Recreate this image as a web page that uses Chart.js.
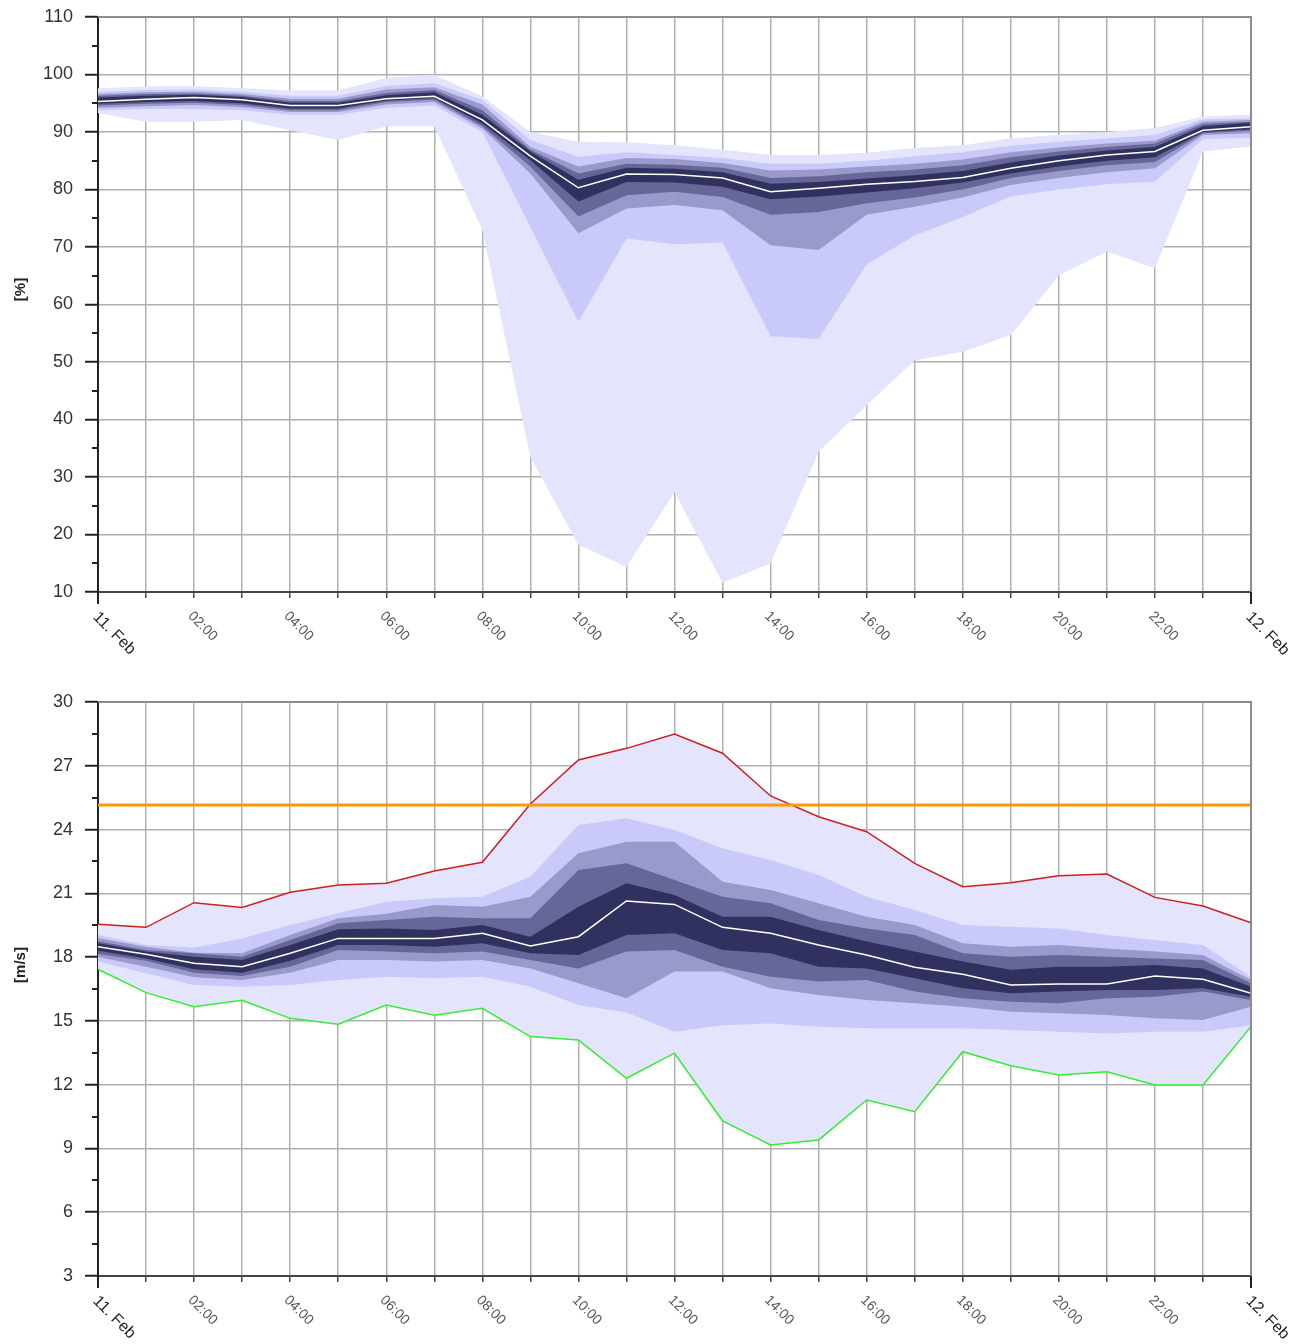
<!DOCTYPE html>
<html>
<head>
<meta charset="utf-8">
<script src="https://cdn.jsdelivr.net/npm/chart.js@4.4.1/dist/chart.umd.min.js"></script>
<style>
  html, body { margin: 0; padding: 0; background: #fff; }
  canvas { display: block; }
</style>
</head>
<body>
<canvas id="rhChart" width="1304" height="680"></canvas>
<canvas id="windChart" width="1304" height="664"></canvas>
<script>
// hourly steps, 11 Feb 00:00 -> 12 Feb 00:00
const categories = ["00:00","01:00","02:00","03:00","04:00","05:00","06:00","07:00","08:00","09:00","10:00","11:00","12:00",
  "13:00","14:00","15:00","16:00","17:00","18:00","19:00","20:00","21:00","22:00","23:00","24:00"];
const tickLabels = ["11. Feb","","02:00","","04:00","","06:00","","08:00","","10:00","","12:00",
  "","14:00","","16:00","","18:00","","20:00","","22:00","","12. Feb"];

// relative humidity [%] — percentile bands, outer -> inner
const rhMedian  = [95.3, 95.7, 96.0, 95.6, 94.6, 94.6, 95.8, 96.2, 92.1, 85.8, 80.3, 82.7, 82.6, 82.0, 79.6, 80.2, 80.9, 81.4, 82.1, 83.7, 85.0, 86.0, 86.6, 90.3, 90.9];
const rhOuterHi = [97.6, 97.9, 98.0, 97.6, 97.2, 97.2, 99.4, 99.9, 96.2, 90.0, 88.3, 88.2, 87.7, 86.9, 86.0, 86.0, 86.4, 87.2, 87.7, 88.9, 89.5, 90.0, 90.7, 92.7, 93.0];
const rhOuterLo = [93.3, 91.8, 91.8, 92.1, 90.3, 88.6, 91.0, 91.0, 73.0, 33.5, 18.2, 14.4, 27.4, 11.6, 15.0, 34.4, 42.5, 50.3, 51.8, 54.7, 65.1, 69.2, 66.3, 86.6, 87.5];
const rhP2Hi    = [97.0, 97.3, 97.4, 97.0, 96.3, 96.3, 98.0, 98.5, 95.6, 88.6, 85.7, 86.5, 86.0, 85.5, 84.5, 84.5, 85.0, 85.8, 86.5, 87.6, 88.3, 88.9, 89.5, 92.2, 92.4];
const rhP2Lo    = [93.8, 94.0, 94.0, 93.8, 93.0, 93.0, 94.2, 94.6, 90.0, 73.5, 57.0, 71.5, 70.5, 70.8, 54.5, 54.0, 67.0, 72.0, 75.2, 78.8, 80.0, 80.9, 81.4, 88.8, 89.0];
const rhP3Hi    = [96.6, 96.9, 97.0, 96.6, 95.8, 95.8, 97.4, 97.8, 94.8, 87.4, 84.0, 85.5, 85.3, 84.6, 83.3, 83.5, 84.0, 84.5, 85.2, 86.5, 87.3, 88.0, 88.5, 91.8, 92.1];
const rhP3Lo    = [94.2, 94.5, 94.7, 94.3, 93.5, 93.5, 94.8, 95.2, 90.6, 82.8, 72.4, 76.7, 77.3, 76.4, 70.3, 69.5, 75.6, 77.0, 78.6, 80.8, 82.0, 83.0, 83.7, 89.5, 89.8];
const rhP4Hi    = [96.3, 96.6, 96.7, 96.3, 95.4, 95.4, 96.8, 97.3, 93.8, 86.9, 82.8, 84.5, 84.3, 83.8, 82.0, 82.3, 83.0, 83.5, 84.2, 85.6, 86.6, 87.4, 88.0, 91.4, 91.8];
const rhP4Lo    = [94.6, 94.9, 95.1, 94.7, 93.8, 93.8, 95.2, 95.6, 91.0, 84.0, 75.3, 79.0, 79.6, 78.7, 75.6, 76.1, 77.6, 78.6, 80.0, 82.0, 83.2, 84.2, 84.8, 89.8, 90.2];
const rhP5Hi    = [96.0, 96.3, 96.5, 96.1, 95.1, 95.1, 96.4, 96.9, 93.0, 86.6, 81.7, 83.8, 83.6, 83.0, 81.0, 81.3, 81.9, 82.5, 83.2, 84.7, 85.9, 86.8, 87.4, 91.0, 91.6];
const rhP5Lo    = [94.9, 95.2, 95.4, 95.0, 94.1, 94.1, 95.5, 95.9, 91.5, 85.1, 77.9, 81.3, 81.2, 80.5, 78.3, 78.8, 79.5, 80.2, 81.2, 82.8, 84.0, 85.0, 85.6, 90.0, 90.5];

// wind speed [m/s]
const windMax    = [19.54, 19.4, 20.56, 20.33, 21.05, 21.39, 21.47, 22.05, 22.46, 25.2, 27.27, 27.82, 28.49, 27.59, 25.58, 24.6, 23.9, 22.41, 21.31, 21.5, 21.83, 21.91, 20.81, 20.4, 19.62];
const windMin    = [17.43, 16.33, 15.67, 15.97, 15.12, 14.84, 15.75, 15.27, 15.59, 14.26, 14.1, 12.3, 13.48, 10.3, 9.16, 9.4, 11.28, 10.73, 13.55, 12.89, 12.45, 12.61, 11.98, 11.98, 14.73];
const windMedian = [18.49, 18.13, 17.71, 17.55, 18.18, 18.88, 18.88, 18.88, 19.12, 18.52, 18.96, 20.64, 20.48, 19.4, 19.12, 18.57, 18.1, 17.52, 17.19, 16.69, 16.74, 16.74, 17.11, 16.96, 16.3];
const windP2Hi   = [19.04, 18.57, 18.45, 18.88, 19.51, 20.06, 20.6, 20.77, 20.84, 21.78, 24.21, 24.53, 23.98, 23.12, 22.57, 21.86, 20.84, 20.22, 19.51, 19.43, 19.35, 19.04, 18.8, 18.57, 17.06];
const windP2Lo   = [17.79, 17.24, 16.69, 16.61, 16.69, 16.92, 17.08, 17.0, 17.08, 16.61, 15.75, 15.4, 14.49, 14.8, 14.88, 14.73, 14.65, 14.65, 14.65, 14.57, 14.49, 14.41, 14.49, 14.49, 14.8];
const windP3Hi   = [18.9, 18.49, 18.2, 18.18, 19.04, 19.83, 20.04, 20.45, 20.37, 20.84, 22.88, 23.43, 23.43, 21.55, 21.16, 20.53, 19.9, 19.51, 18.65, 18.49, 18.57, 18.41, 18.26, 18.1, 16.92];
const windP3Lo   = [18.0, 17.55, 17.05, 16.92, 17.27, 17.86, 17.86, 17.79, 17.86, 17.47, 16.77, 16.06, 17.32, 17.32, 16.53, 16.22, 15.98, 15.83, 15.67, 15.43, 15.36, 15.28, 15.12, 15.04, 15.67];
const windP4Hi   = [18.75, 18.34, 18.18, 18.02, 18.81, 19.59, 19.75, 19.9, 19.83, 19.83, 22.1, 22.41, 21.63, 20.84, 20.53, 19.75, 19.35, 19.04, 18.18, 18.02, 18.1, 18.02, 17.94, 17.86, 16.77];
const windP4Lo   = [18.15, 17.83, 17.27, 17.11, 17.55, 18.34, 18.26, 18.18, 18.26, 17.86, 17.47, 18.26, 18.34, 17.55, 17.08, 16.85, 16.92, 16.38, 16.06, 15.9, 15.83, 16.06, 16.14, 16.38, 15.98];
const windP5Hi   = [18.65, 18.26, 18.02, 17.86, 18.57, 19.31, 19.35, 19.28, 19.51, 18.96, 20.37, 21.47, 20.92, 19.9, 19.9, 19.28, 18.73, 18.26, 17.79, 17.4, 17.55, 17.55, 17.63, 17.47, 16.61];
const windP5Lo   = [18.3, 17.94, 17.43, 17.27, 17.83, 18.57, 18.57, 18.49, 18.65, 18.18, 18.1, 19.04, 19.12, 18.34, 18.18, 17.55, 17.47, 17.0, 16.53, 16.3, 16.38, 16.45, 16.45, 16.53, 16.14];
const windLimit  = 25.15;

const bandColors = ["#e4e4fc", "#cacafa", "#9999cc", "#666699", "#31315f"];

Chart.defaults.font.family = '"Liberation Sans", Arial, sans-serif';
Chart.defaults.animation = false;

function bandSets(bands) {
  const sets = [];
  bands.forEach(([hi, lo], i) => {
    const base = { borderColor: "rgba(0,0,0,0)", borderWidth: 0, pointRadius: 0, order: 20 - i };
    sets.push({ ...base, data: hi, fill: "+1", backgroundColor: bandColors[i] });
    sets.push({ ...base, data: lo, fill: false });
  });
  return sets;
}

function lineSet(data, color, width, order) {
  return { data, borderColor: color, borderWidth: width, pointRadius: 0, fill: false, order, tension: 0 };
}

// minor ticks, end ticks, rotated time labels, plot frame, axis title
const axisDecor = {
  id: "axisDecor",
  afterDatasetsDraw(chart) {
    const { ctx, chartArea: a } = chart;
    ctx.save();
    ctx.strokeStyle = "#8c8c8c";
    ctx.lineWidth = 2;
    ctx.beginPath();
    ctx.moveTo(a.left, a.top); ctx.lineTo(a.right, a.top); ctx.lineTo(a.right, a.bottom);
    ctx.stroke();
    ctx.restore();
  },
  afterDraw(chart, args, opts) {
    const { ctx, chartArea: a, scales: { x, y } } = chart;
    ctx.save();
    ctx.strokeStyle = "#222";
    ctx.lineWidth = 2;
    const step = y.options.ticks.stepSize;
    for (let v = y.min + step / 2; v < y.max; v += step) {
      const py = Math.round(y.getPixelForValue(v));
      ctx.beginPath(); ctx.moveTo(a.left - 6, py); ctx.lineTo(a.left, py); ctx.stroke();
    }
    [0, categories.length - 1].forEach(i => {
      const px = x.getPixelForValue(i);
      ctx.beginPath(); ctx.moveTo(px, a.bottom); ctx.lineTo(px, a.bottom + 12); ctx.stroke();
    });

    ctx.textAlign = "left";
    ctx.textBaseline = "top";
    tickLabels.forEach((lab, i) => {
      if (!lab) return;
      const isDate = i === 0 || i === tickLabels.length - 1;
      const px = x.getPixelForValue(i);
      ctx.save();
      ctx.translate(px + (isDate ? 3 : 1), a.bottom + 17);
      ctx.rotate(Math.PI / 4);
      ctx.font = isDate ? '16px "Liberation Sans"' : '14px "Liberation Sans"';
      ctx.fillStyle = isDate ? "#222" : "#555";
      ctx.fillText(lab, 0, 0);
      ctx.restore();
    });

    ctx.save();
    ctx.translate(21, (a.top + a.bottom) / 2 + opts.titleShift);
    ctx.rotate(-Math.PI / 2);
    ctx.textAlign = "center";
    ctx.textBaseline = "middle";
    ctx.font = 'bold 15px "Liberation Sans"';
    ctx.fillStyle = "#222";
    ctx.fillText(opts.title, 0, 0);
    ctx.restore();
    ctx.restore();
  }
};

function makeOptions(yMin, yMax, yStep, padTop, xHeight, title, titleShift) {
  return {
    responsive: false,
    maintainAspectRatio: false,
    layout: { padding: { top: padTop, right: 53, left: 0, bottom: 0 } },
    elements: { line: { tension: 0 } },
    plugins: { legend: { display: false }, tooltip: { enabled: false }, axisDecor: { title, titleShift } },
    scales: {
      x: {
        type: "category",
        offset: false,
        ticks: { display: false },
        grid: { color: "#b0b0b0", lineWidth: 1.5, tickLength: 6, tickColor: "#444", tickWidth: 1.5 },
        border: { color: "#444", width: 2 },
        afterFit(scale) { scale.height = xHeight; }
      },
      y: {
        min: yMin, max: yMax,
        ticks: { stepSize: yStep, padding: 12, color: "#333", font: { size: 18 } },
        grid: { color: "#b0b0b0", lineWidth: 1.5, tickLength: 13, tickColor: "#222", tickWidth: 2 },
        border: { color: "#222", width: 2 },
        afterFit(scale) { scale.width = 98; scale.paddingTop = 0; scale.paddingBottom = 0; }
      }
    }
  };
}

new Chart(document.getElementById("rhChart"), {
  type: "line",
  data: {
    labels: categories,
    datasets: [
      ...bandSets([[rhOuterHi, rhOuterLo], [rhP2Hi, rhP2Lo], [rhP3Hi, rhP3Lo], [rhP4Hi, rhP4Lo], [rhP5Hi, rhP5Lo]]),
      lineSet(rhMedian, "#ffffff", 1.5, 1)
    ]
  },
  options: makeOptions(10, 110, 10, 17, 88, "[%]", -15),
  plugins: [axisDecor]
});

new Chart(document.getElementById("windChart"), {
  type: "line",
  data: {
    labels: categories,
    datasets: [
      ...bandSets([[windMax, windMin], [windP2Hi, windP2Lo], [windP3Hi, windP3Lo], [windP4Hi, windP4Lo], [windP5Hi, windP5Lo]]),
      lineSet(windMedian, "#ffffff", 1.5, 1),
      lineSet(windMax, "#cc2020", 1.5, 2),
      lineSet(windMin, "#33ee33", 1.5, 2),
      lineSet(categories.map(() => windLimit), "#ff9900", 3, 0)
    ]
  },
  options: makeOptions(3, 30, 3, 22, 68, "[m/s]", -24),
  plugins: [axisDecor]
});
</script>
</body>
</html>
